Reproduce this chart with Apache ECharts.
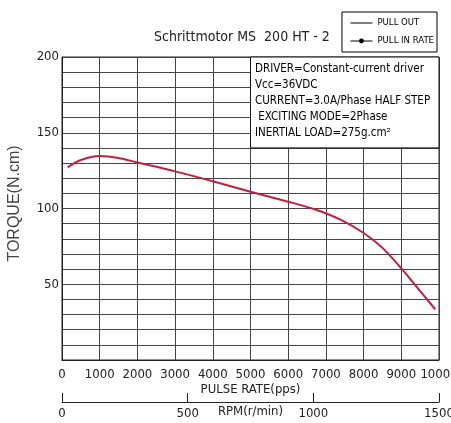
<!DOCTYPE html>
<html>
<head>
<meta charset="utf-8">
<script src="https://cdn.jsdelivr.net/npm/echarts@6/dist/echarts.min.js"></script>
<style>html,body{margin:0;padding:0;background:#fff;}#c{width:451px;height:423px;}</style>
</head>
<body>
<div id="c"></div>
<script>
var titleText = 'Schrittmotor MS  200 HT - 2';
var pulseRate = [150, 500, 1000, 1500, 2000, 3000, 4000, 5000, 6000, 6700, 7400, 8000, 8500, 9000, 9400, 9900];
var pullOutTorque = [127.2, 132, 134.6, 133.4, 130.4, 124.5, 118, 111, 104.5, 99.5, 92.5, 83.8, 74, 60.5, 48.5, 33.5];
var legendNames = ['PULL OUT', 'PULL IN RATE'];
var infoLines = [
  'DRIVER=Constant-current driver',
  'Vcc=36VDC',
  'CURRENT=3.0A/Phase HALF STEP',
  ' EXCITING MODE=2Phase',
  'INERTIAL LOAD=275g.cm\u00b2'
];
var infoBox = {x: [5000, 10000], y: [140, 200]};
var yLabelValues = [50, 100, 150, 200];

var NARROW = '"Liberation Sans Narrow", "DejaVu Sans Condensed", sans-serif';
var chart = echarts.init(document.getElementById('c'));
chart.setOption({
  animation: false,
  backgroundColor: '#fff',
  title: {
    text: titleText, left: 149, top: 25,
    textStyle: {fontFamily: NARROW, fontSize: 14, fontWeight: 'normal', color: '#222'}
  },
  legend: {
    orient: 'vertical', right: 14, top: 12,
    data: [
      {name: legendNames[0], icon: 'path://M0,0M22,6M0,2.5H22V3.5H0Z'},
      {name: legendNames[1]}
    ],
    borderColor: '#000', borderWidth: 1, padding: [6, 3, 6, 8],
    itemGap: 8, itemWidth: 22, itemHeight: 6,
    lineStyle: {color: '#000', width: 1},
    itemStyle: {color: '#000'},
    textStyle: {fontFamily: NARROW, fontSize: 9.5, color: '#000'}
  },
  grid: {left: 62, right: 12, top: 57, bottom: 63, outerBoundsMode: 'none', containLabel: false,
    show: true, borderColor: '#222', borderWidth: 1},
  xAxis: [{
    type: 'value', min: 0, max: 10000, interval: 1000,
    name: 'PULSE RATE(pps)', nameLocation: 'middle', nameGap: 23, nameMoveOverlap: false,
    nameTextStyle: {fontFamily: NARROW, fontSize: 13, color: '#222'},
    axisLine: {show: true, lineStyle: {color: '#222'}},
    axisTick: {show: false},
    splitLine: {show: true, lineStyle: {color: '#444', width: 1}},
    axisLabel: {margin: 8, fontFamily: NARROW, fontSize: 13, color: '#222', hideOverlap: false,
      formatter: function (v) { return String(v); }}
  }, {
    type: 'value', position: 'bottom', offset: 42, min: 0, max: 1500, interval: 500,
    name: 'RPM(r/min)', nameLocation: 'middle', nameGap: 3, nameMoveOverlap: false,
    nameTextStyle: {fontFamily: NARROW, fontSize: 13, color: '#222'},
    axisLine: {show: true, lineStyle: {color: '#222'}},
    axisTick: {show: true, inside: true, length: 9, lineStyle: {color: '#222'}},
    splitLine: {show: false},
    axisLabel: {margin: 5, fontFamily: NARROW, fontSize: 13, color: '#222',
      formatter: function (v) { return String(v); }}
  }],
  yAxis: {
    type: 'value', min: 0, max: 200, interval: 10,
    name: 'TORQUE(N.cm)', nameLocation: 'middle', nameGap: 39, nameMoveOverlap: false,
    nameTextStyle: {fontFamily: '"Liberation Sans", sans-serif', fontSize: 16, color: '#444', padding: [0, 0, 0, 10]},
    axisLine: {show: true, lineStyle: {color: '#222'}},
    axisTick: {show: false},
    splitLine: {show: true, lineStyle: {color: '#444', width: 1}},
    axisLabel: {
      margin: 3, fontFamily: NARROW, fontSize: 13, color: '#222',
      formatter: function (v) { return yLabelValues.indexOf(v) >= 0 ? String(v) : ''; }
    }
  },
  series: [{
    name: legendNames[0], type: 'line', xAxisIndex: 0,
    data: pulseRate.map(function (x, i) { return [x, pullOutTorque[i]]; }),
    smooth: 0.3, symbol: 'none',
    lineStyle: {color: '#c41e3a', width: 2},
    itemStyle: {color: '#c41e3a'},
    markArea: {
      silent: true,
      itemStyle: {color: '#fff', borderColor: '#111', borderWidth: 1, opacity: 1},
      label: {
        show: true, position: 'insideTopLeft', distance: 5,
        fontFamily: NARROW, fontSize: 11.5, lineHeight: 16, color: '#000',
        formatter: infoLines.join('\n')
      },
      data: [[{xAxis: infoBox.x[0], yAxis: infoBox.y[1]}, {xAxis: infoBox.x[1], yAxis: infoBox.y[0]}]]
    }
  }, {
    name: legendNames[1], type: 'line', xAxisIndex: 0, data: [],
    symbol: 'circle', symbolSize: 4,
    lineStyle: {color: '#000', width: 1}, itemStyle: {color: '#000'}
  }]
});
</script>
</body>
</html>
